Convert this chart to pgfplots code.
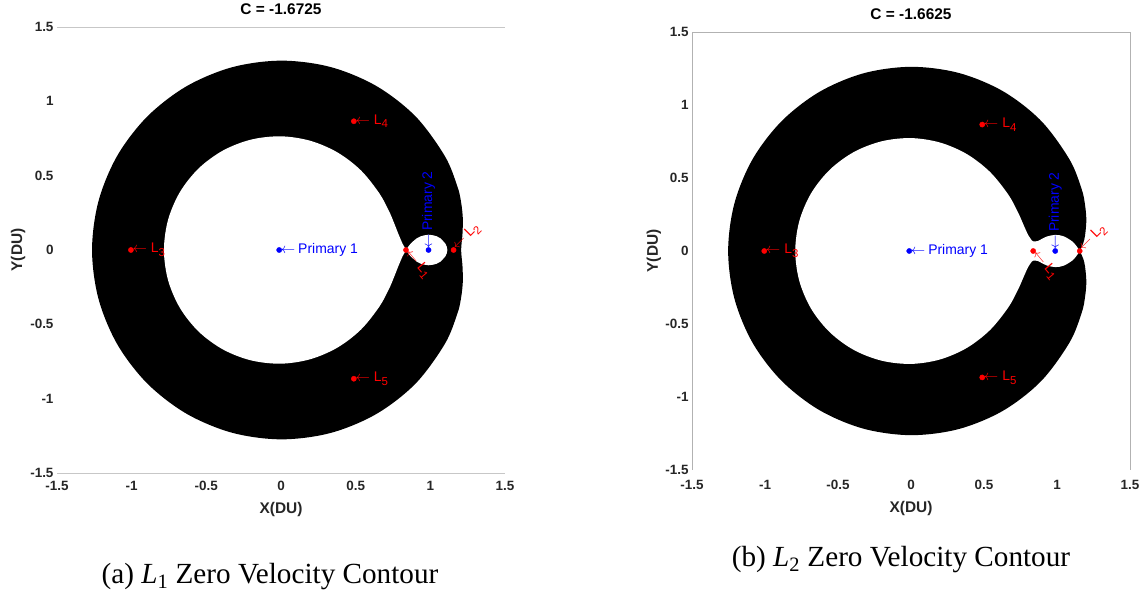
\documentclass[border=0pt]{standalone}
\usepackage{fontspec}
\setmainfont{Liberation Sans}
\newfontfamily\capfont{Liberation Serif}
\usepackage{pgfplots}
\usepackage{pgfplotstable}
\pgfplotsset{compat=1.18}

% ---------- panel (a): C at L1 ----------
\pgfplotstableread{
x y
1.206 0
1.2099 0.0528
1.2152 0.1063
1.2174 0.2147
1.2056 0.3230
1.1804 0.4296
1.0964 0.6330
0.8998 0.8998
0.6373 1.1037
0.3299 1.2312
0 1.2736
-0.3292 1.2287
-0.6350 1.0998
-0.8966 0.8966
-1.0968 0.6333
-1.2224 0.3275
-1.2653 0
-1.2224 -0.3275
-1.0968 -0.6333
-0.8966 -0.8966
-0.6350 -1.0998
-0.3292 -1.2287
0 -1.2736
0.3299 -1.2312
0.6373 -1.1037
0.8998 -0.8998
1.0964 -0.6330
1.1804 -0.4296
1.2056 -0.3230
1.2174 -0.2147
1.2152 -0.1063
1.2099 -0.0528
1.206 0
}\outerA

\pgfplotstableread{
x y
0.8369 0
0.8257 0.0216
0.8139 0.0427
0.8019 0.0702
0.7879 0.1037
0.7749 0.1366
0.7496 0.2008
0.7224 0.2629
0.6590 0.3805
0.5353 0.5353
0.3788 0.6560
0.1968 0.7345
0 0.7646
-0.1990 0.7428
-0.3869 0.6700
-0.5501 0.5501
-0.6764 0.3905
-0.7563 0.2027
-0.7838 0
-0.7563 -0.2027
-0.6764 -0.3905
-0.5501 -0.5501
-0.3869 -0.6700
-0.1990 -0.7428
0 -0.7646
0.1968 -0.7345
0.3788 -0.6560
0.5353 -0.5353
0.6590 -0.3805
0.7224 -0.2629
0.7496 -0.2008
0.7749 -0.1366
0.7879 -0.1037
0.8019 -0.0702
0.8139 -0.0427
0.8257 -0.0216
0.8369 0
}\earthA

\pgfplotstableread{
x y
0.8369 0
0.8454 0.0125
0.8531 0.0238
0.8686 0.0434
0.9093 0.0786
0.9348 0.0919
0.98785 0.1028
1.0414 0.0927
1.0668 0.0789
1.1015 0.0414
1.1101 0.0216
1.1139 0
1.1101 -0.0216
1.1015 -0.0414
1.0668 -0.0789
1.0414 -0.0927
0.98785 -0.1028
0.9348 -0.0919
0.9093 -0.0786
0.8686 -0.0434
0.8531 -0.0238
0.8454 -0.0125
0.8369 0
}\moonA

% ---------- panel (b): C at L2 ----------
\pgfplotstableread{
x y
1.1557 0
1.1789 0.0515
1.1918 0.1043
1.2009 0.2117
1.1914 0.3192
1.1683 0.4252
1.0857 0.6268
0.8912 0.8912
0.6313 1.0934
0.3268 1.2195
0 1.2614
-0.3260 1.2168
-0.6288 1.0890
-0.8877 0.8877
-1.0860 0.6270
-1.2099 0.3242
-1.2524 0
-1.2099 -0.3242
-1.0860 -0.6270
-0.8877 -0.8877
-0.6288 -1.0890
-0.3260 -1.2168
0 -1.2614
0.3268 -1.2195
0.6313 -1.0934
0.8912 -0.8912
1.0857 -0.6268
1.1683 -0.4252
1.1914 -0.3192
1.2009 -0.2117
1.1918 -0.1043
1.1789 -0.0515
1.1557 0
}\outerB

\pgfplotstableread{
x y
1.1557 0
1.1437 0.0191
1.1299 0.0381
1.1031 0.0666
1.0459 0.1006
0.98785 0.1103
0.9306 0.0992
0.9017 0.0862
0.8692 0.0685
0.8370 0.0659
0.8278 0.0724
0.8044 0.1059
0.7884 0.1390
0.7602 0.2037
0.7320 0.2664
0.6671 0.3852
0.5412 0.5412
0.3830 0.6634
0.1990 0.7428
0 0.7733
-0.2013 0.7512
-0.3914 0.6778
-0.5564 0.5564
-0.6843 0.3951
-0.7650 0.2050
-0.7928 0
-0.7650 -0.2050
-0.6843 -0.3951
-0.5564 -0.5564
-0.3914 -0.6778
-0.2013 -0.7512
0 -0.7733
0.1990 -0.7428
0.3830 -0.6634
0.5412 -0.5412
0.6671 -0.3852
0.7320 -0.2664
0.7602 -0.2037
0.7884 -0.1390
0.8044 -0.1059
0.8278 -0.0724
0.8370 -0.0659
0.8692 -0.0685
0.9017 -0.0862
0.9306 -0.0992
0.98785 -0.1103
1.0459 -0.1006
1.1031 -0.0666
1.1299 -0.0381
1.1437 -0.0191
1.1557 0
}\innerB

% ---------- libration points and primaries ----------
\pgfplotstableread{
x y
0.8369 0
1.1557 0
-1.0051 0
0.4878 0.8660
0.4878 -0.8660
}\Lpts

\pgfplotstableread{
x y
-0.01215 0
0.98785 0
}\Ppts

\pgfplotsset{
  zvc/.style={
    scale only axis,
    xmin=-1.5, xmax=1.5, ymin=-1.5, ymax=1.5,
    xtick={-1.5,-1,-0.5,0,0.5,1,1.5},
    ytick={-1.5,-1,-0.5,0,0.5,1,1.5},
    xticklabels={-1.5,-1,-0.5,0,0.5,1,1.5},
    yticklabels={-1.5,-1,-0.5,0,0.5,1,1.5},
    major tick length=0pt,
    axis line style={draw=none},
    tick label style={font=\fontsize{13.5}{15}\selectfont\bfseries, text=black!85},
    xlabel={X(DU)}, ylabel={Y(DU)},
    label style={font=\fontsize{15.5}{17}\selectfont\bfseries, text=black!85},
    ylabel style={at={(axis description cs:-0.087,0.5)}, anchor=center},
    title style={font=\fontsize{15.5}{17}\selectfont\bfseries, anchor=center},
    clip=false,
  },
  zone/.style={draw=none, smooth, tension=0.55},
}
\tikzset{lbl/.style={font=\fontsize{14}{16}\selectfont, inner sep=1.5bp, anchor=west}}
\newcommand{\Lab}[1]{$\leftarrow$\hspace{4bp}L\raisebox{-0.5ex}{\fontsize{11.5}{12}\selectfont #1}}

\begin{document}
\begin{tikzpicture}
\useasboundingbox (0,0) rectangle (1143bp,592bp);

% ================= (a) =================
\begin{axis}[zvc, width=448bp, height=446bp, at={(57bp,119bp)}, anchor=south west,
  title={C = -1.6725},
  title style={at={(axis description cs:0.5,1.027)}},
  xticklabel style={yshift=-5bp},
  xlabel style={at={(axis description cs:0.5,-0.081)}, anchor=center}]
\draw[black!22, line width=0.9bp] (axis cs:-1.5,1.5) -- (axis cs:1.5,1.5);
\draw[black!22, line width=0.9bp] (axis cs:-1.5,-1.5) -- (axis cs:1.5,-1.5);
\addplot[zone, fill=black] table {\outerA};
\addplot[zone, fill=white] table {\earthA};
\addplot[zone, fill=white] table {\moonA};
\addplot[only marks, mark=*, mark size=2.6bp, red] table {\Lpts};
\addplot[only marks, mark=*, mark size=2.6bp, blue] table {\Ppts};
\node[lbl, red] at (axis cs:-1.0051,0) {\Lab{3}};
\node[lbl, red] at (axis cs:0.4878,0.8660) {\Lab{4}};
\node[lbl, red] at (axis cs:0.4878,-0.8660) {\Lab{5}};
\node[lbl, red, rotate=-50] at (axis cs:0.8369,0) {\Lab{1}};
\node[lbl, red, rotate=45] at (axis cs:1.1557,0) {\Lab{2}};
\node[lbl, blue] at (axis cs:-0.01215,0) {$\leftarrow$\hspace{3bp}Primary 1};
\node[lbl, blue, rotate=90] at (axis cs:0.98785,0) {$\leftarrow$\hspace{3bp}Primary 2};
\end{axis}

% ================= (b) =================
\begin{axis}[zvc, width=438bp, height=438bp, at={(692bp,122bp)}, anchor=south west,
  title={C = -1.6625},
  title style={at={(axis description cs:0.5,1.027)}},
  xticklabel style={yshift=-6.5bp},
  xlabel style={at={(axis description cs:0.5,-0.089)}, anchor=center}]
\draw[black!30, line width=0.9bp] (axis cs:-1.5,-1.5) -- (axis cs:-1.5,1.5) -- (axis cs:1.5,1.5) -- (axis cs:1.5,-1.5);
\addplot[zone, fill=black] table {\outerB};
\addplot[zone, fill=white] table {\innerB};
\addplot[only marks, mark=*, mark size=2.6bp, red] table {\Lpts};
\addplot[only marks, mark=*, mark size=2.6bp, blue] table {\Ppts};
\node[lbl, red] at (axis cs:-1.0051,0) {\Lab{3}};
\node[lbl, red] at (axis cs:0.4878,0.8660) {\Lab{4}};
\node[lbl, red] at (axis cs:0.4878,-0.8660) {\Lab{5}};
\node[lbl, red, rotate=-50] at (axis cs:0.8369,0) {\Lab{1}};
\node[lbl, red, rotate=45] at (axis cs:1.1557,0) {\Lab{2}};
\node[lbl, blue] at (axis cs:-0.01215,0) {$\leftarrow$\hspace{3bp}Primary 1};
\node[lbl, blue, rotate=90] at (axis cs:0.98785,0) {$\leftarrow$\hspace{3bp}Primary 2};
\end{axis}

% captions
\node[font=\capfont\fontsize{29.3}{31}\selectfont, anchor=center] at (270bp,15bp)
  {(a) \textit{L}\textsubscript{1} Zero Velocity Contour};
\node[font=\capfont\fontsize{29.3}{31}\selectfont, anchor=center] at (901bp,32bp)
  {(b) \textit{L}\textsubscript{2} Zero Velocity Contour};
\end{tikzpicture}
\end{document}
